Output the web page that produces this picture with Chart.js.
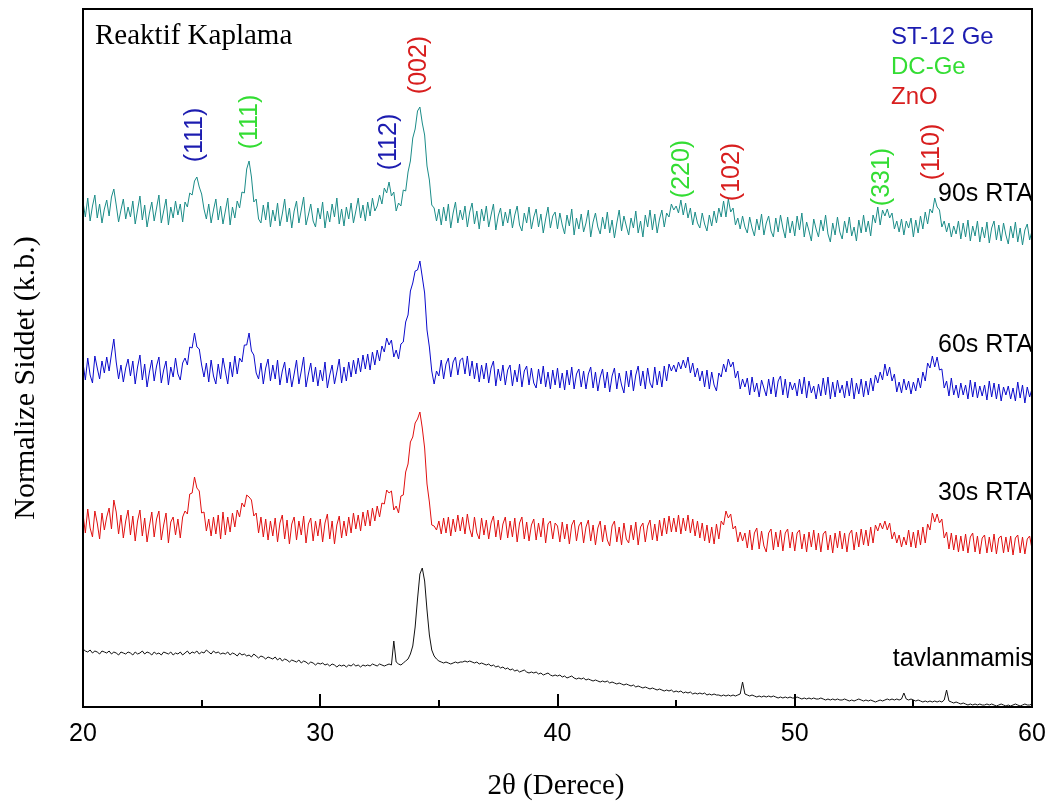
<!DOCTYPE html>
<html>
<head>
<meta charset="utf-8">
<script src="https://cdn.jsdelivr.net/npm/chart.js@4/dist/chart.umd.min.js"></script>
<style>
  body { margin: 0; background: #fff; }
  canvas { display: block; }
</style>
</head>
<body>
<canvas id="xrdChart" width="1053" height="805"></canvas>
<script>
// 2θ grid: 20.0 .. 60.0 every 0.1 degree
const startAngle = 20;
const stepAngle = 0.1;

// normalized intensity, offset per sample
const rta90 = [
  505, 490, 509, 486, 501, 512, 489, 503, 484, 498,
  507, 491, 510, 518, 502, 485, 497, 508, 488, 500,
  490, 506, 483, 497, 511, 487, 502, 480, 494, 505,
  486, 499, 512, 484, 496, 508, 482, 500, 489, 506,
  492, 503, 485, 505, 500, 514, 512, 526, 530, 520,
  513, 498, 488, 503, 484, 497, 508, 487, 501, 483,
  496, 509, 482, 500, 489, 506, 499, 515, 514, 538,
  546, 530, 505, 508, 488, 484, 502, 487, 505, 480,
  497, 486, 504, 481, 493, 508, 485, 499, 479, 496,
  506, 484, 497, 510, 482, 492, 503, 486, 480, 499,
  488, 505, 479, 496, 485, 503, 490, 509, 483, 498,
  481, 500, 488, 504, 484, 496, 509, 489, 502, 486,
  505, 491, 509, 496, 501, 512, 503, 519, 514, 525,
  511, 515, 496, 504, 501, 517, 516, 535, 546, 569,
  578, 596, 600, 584, 572, 541, 527, 502, 499, 486,
  498, 482, 500, 486, 503, 479, 494, 505, 484, 497,
  487, 501, 480, 495, 504, 483, 496, 478, 498, 486,
  501, 480, 492, 503, 477, 491, 499, 481, 495, 484,
  498, 479, 492, 501, 482, 476, 494, 484, 500, 478,
  490, 498, 480, 493, 474, 488, 500, 479, 491, 495,
  478, 494, 482, 473, 492, 481, 498, 472, 489, 478,
  493, 475, 484, 497, 470, 485, 494, 480, 473, 490,
  478, 495, 474, 487, 469, 484, 497, 476, 491, 481,
  472, 489, 479, 496, 474, 486, 470, 492, 480, 497,
  477, 493, 474, 488, 497, 480, 494, 490, 503, 497,
  501, 494, 507, 492, 504, 489, 499, 482, 495, 484,
  479, 494, 483, 476, 492, 481, 496, 484, 499, 490,
  506, 490, 508, 495, 499, 482, 489, 478, 491, 480,
  474, 490, 479, 471, 488, 477, 493, 472, 484, 491,
  476, 470, 489, 475, 492, 479, 469, 490, 474, 486,
  471, 491, 477, 494, 470, 485, 476, 466, 488, 478,
  470, 487, 476, 492, 473, 465, 484, 472, 490, 475,
  468, 486, 474, 490, 471, 480, 466, 487, 474, 492,
  475, 486, 471, 492, 484, 500, 482, 497, 491, 498,
  489, 494, 478, 486, 475, 488, 472, 486, 479, 489,
  470, 487, 474, 491, 478, 495, 483, 498, 494, 509,
  500, 497, 480, 486, 475, 484, 470, 481, 473, 486,
  468, 484, 470, 487, 466, 481, 471, 486, 465, 480,
  469, 485, 464, 479, 486, 467, 482, 466, 484, 472,
  463, 481, 469, 485, 465, 479, 462, 477, 483, 467,
  476
];

const rta60 = [
  344, 327, 349, 332, 324, 351, 339, 328, 346, 334,
  350, 336, 353, 368, 345, 328, 342, 325, 339, 348,
  331, 346, 323, 340, 352, 327, 343, 320, 335, 347,
  326, 341, 350, 324, 337, 346, 322, 340, 330, 349,
  333, 327, 344, 349, 342, 360, 359, 374, 360, 358,
  342, 330, 344, 325, 347, 331, 323, 343, 328, 349,
  336, 323, 345, 330, 351, 333, 349, 345, 362, 362,
  374, 356, 352, 334, 328, 344, 323, 339, 348, 326,
  342, 328, 347, 322, 336, 345, 324, 339, 320, 333,
  347, 323, 336, 350, 320, 333, 344, 325, 340, 321,
  337, 326, 345, 319, 332, 342, 323, 335, 348, 324,
  340, 326, 345, 330, 347, 333, 349, 335, 352, 338,
  353, 337, 355, 342, 357, 346, 361, 355, 369, 362,
  367, 350, 357, 348, 363, 365, 385, 392, 416, 424,
  436, 437, 446, 430, 414, 377, 360, 336, 323, 336,
  331, 347, 328, 343, 349, 330, 345, 350, 332, 347,
  349, 333, 351, 331, 346, 328, 344, 325, 342, 328,
  344, 324, 339, 346, 321, 338, 326, 342, 322, 337,
  342, 321, 337, 325, 343, 320, 336, 341, 322, 339,
  324, 319, 338, 323, 341, 320, 335, 318, 337, 322,
  339, 319, 334, 317, 337, 322, 340, 318, 333, 338,
  320, 336, 318, 333, 340, 319, 335, 316, 330, 338,
  319, 335, 315, 331, 339, 318, 334, 322, 314, 336,
  320, 337, 316, 332, 341, 321, 336, 318, 339, 324,
  319, 340, 322, 336, 320, 341, 326, 343, 336, 342,
  335, 345, 338, 347, 339, 350, 334, 344, 330, 339,
  326, 336, 320, 337, 318, 335, 322, 316, 334, 330,
  343, 335, 348, 340, 345, 329, 336, 318, 328, 320,
  329, 312, 330, 315, 324, 310, 327, 319, 311, 328,
  313, 330, 310, 326, 331, 312, 328, 309, 325, 317,
  324, 311, 328, 313, 330, 309, 326, 314, 321, 308,
  323, 311, 329, 312, 330, 308, 325, 310, 327, 314,
  322, 309, 326, 311, 329, 308, 324, 313, 328, 310,
  326, 312, 329, 316, 332, 324, 335, 327, 343, 331,
  340, 326, 333, 315, 325, 314, 328, 317, 326, 313,
  325, 316, 329, 319, 335, 326, 344, 339, 351, 340,
  350, 337, 338, 319, 326, 311, 329, 312, 322, 309,
  324, 312, 322, 308, 327, 310, 325, 309, 321, 311,
  322, 307, 326, 310, 324, 308, 323, 306, 320, 312,
  321, 308, 319, 306, 325, 309, 322, 304, 320, 310,
  318
];

const rta30 = [
  193, 174, 198, 179, 170, 196, 184, 168, 194, 177,
  190, 199, 178, 207, 195, 173, 192, 169, 186, 197,
  172, 191, 166, 186, 197, 171, 189, 165, 181, 195,
  170, 188, 196, 167, 182, 194, 164, 185, 190, 172,
  188, 169, 190, 196, 193, 213, 214, 230, 219, 216,
  194, 195, 176, 188, 171, 190, 173, 192, 168, 195,
  172, 190, 175, 194, 180, 197, 190, 204, 200, 212,
  210, 207, 191, 194, 174, 190, 170, 188, 167, 186,
  171, 189, 165, 184, 192, 168, 187, 163, 183, 190,
  167, 186, 172, 191, 164, 183, 189, 166, 186, 171,
  188, 165, 184, 193, 168, 186, 163, 182, 191, 169,
  186, 171, 190, 174, 194, 178, 192, 176, 195, 181,
  197, 181, 199, 186, 201, 190, 204, 203, 217, 214,
  216, 197, 201, 194, 211, 212, 235, 243, 265, 270,
  284, 288, 295, 279, 259, 223, 205, 182, 181, 177,
  186, 173, 189, 174, 190, 171, 188, 175, 192, 176,
  190, 173, 193, 178, 170, 190, 174, 168, 189, 172,
  187, 168, 184, 191, 170, 187, 167, 183, 190, 169,
  186, 170, 189, 165, 184, 190, 168, 185, 166, 182,
  188, 167, 184, 170, 189, 164, 183, 186, 168, 184,
  181, 165, 185, 168, 183, 163, 182, 187, 166, 181,
  185, 164, 180, 187, 166, 182, 162, 179, 186, 165,
  182, 167, 161, 181, 186, 165, 180, 162, 184, 168,
  164, 182, 167, 185, 162, 180, 184, 165, 181, 187,
  167, 183, 166, 187, 171, 189, 173, 191, 175, 189,
  175, 192, 173, 189, 176, 192, 174, 188, 171, 186,
  169, 184, 166, 182, 164, 180, 163, 183, 168, 186,
  182, 196, 189, 193, 178, 181, 165, 175, 166, 174,
  159, 177, 157, 174, 179, 158, 176, 161, 155, 174,
  178, 157, 175, 160, 177, 156, 174, 178, 159, 175,
  156, 174, 177, 158, 173, 155, 175, 160, 177, 157,
  174, 155, 173, 176, 157, 172, 154, 174, 159, 176,
  158, 174, 155, 173, 177, 157, 175, 160, 178, 162,
  177, 161, 180, 164, 182, 176, 184, 178, 186, 177,
  184, 168, 175, 164, 172, 160, 170, 162, 177, 160,
  175, 159, 177, 162, 180, 164, 183, 177, 194, 185,
  193, 184, 188, 169, 175, 158, 174, 157, 172, 155,
  171, 156, 173, 154, 170, 174, 155, 171, 153, 169,
  172, 154, 170, 155, 173, 153, 169, 171, 154, 170,
  155, 171, 152, 169, 172, 154, 170, 153, 168, 171,
  158
];

const asDeposited = [
  58, 56, 55, 57, 54, 56, 55, 53, 56, 55,
  54, 56, 53, 55, 54, 52, 55, 54, 53, 55,
  54, 52, 55, 53, 54, 56, 53, 55, 54, 52,
  55, 53, 54, 52, 55, 54, 53, 55, 52, 54,
  53, 55, 52, 54, 56, 53, 55, 54, 56, 53,
  55, 54, 57, 55, 53, 56, 54, 55, 53, 54,
  53, 55, 52, 54, 53, 51, 54, 52, 53, 51,
  52, 50, 53, 51, 49, 51, 50, 48, 50, 49,
  48, 50, 47, 49, 46, 48, 47, 45, 47, 46,
  45, 47, 44, 46, 45, 43, 45, 44, 42, 44,
  43, 44, 42, 43, 41, 43, 42, 40, 42, 41,
  42, 40, 42, 41, 43, 41, 42, 40, 42, 41,
  42, 41, 43, 42, 41, 43, 42, 41, 42, 43,
  42, 66, 45, 43, 42, 44, 46, 48, 53, 61,
  80, 108, 133, 139, 126, 97, 72, 57, 51, 48,
  46, 45, 44, 45, 44, 43, 44, 45, 44, 45,
  45, 46, 45, 46, 45, 44, 45, 43, 44, 43,
  42, 43, 41, 42, 40, 41, 39, 40, 38, 39,
  37, 38, 36, 37, 35, 36, 37, 35, 34, 35,
  34, 35, 33, 34, 32, 33, 34, 32, 31, 32,
  31, 32, 30, 31, 29, 30, 31, 29, 28, 29,
  28, 29, 27, 28, 27, 26, 27, 26, 25, 26,
  25, 26, 24, 25, 24, 23, 24, 23, 22, 23,
  22, 21, 22, 20, 21, 20, 19, 20, 19, 18,
  19, 18, 17, 18, 17, 16, 17, 16, 17, 15,
  16, 15, 16, 14, 15, 14, 15, 13, 14, 13,
  14, 13, 14, 12, 13, 12, 13, 12, 12, 11,
  12, 11, 12, 11, 12, 11, 12, 13, 25, 13,
  12, 11, 12, 11, 10, 11, 10, 11, 10, 11,
  10, 11, 10, 9, 10, 9, 10, 9, 10, 9,
  9, 10, 9, 8, 9, 8, 9, 8, 9, 8,
  8, 9, 8, 7, 8, 7, 8, 7, 8, 7,
  7, 8, 7, 6, 7, 6, 7, 8, 7, 6,
  7, 6, 7, 6, 5, 6, 7, 6, 7, 8,
  7, 8, 7, 8, 7, 8, 14, 8, 7, 8,
  7, 6, 7, 6, 5, 6, 5, 6, 5, 6,
  5, 6, 5, 7, 17, 6, 5, 4, 5, 4,
  3, 4, 3, 2, 3, 2, 3, 2, 3, 2,
  2, 3, 2, 3, 2, 1, 2, 3, 2, 1,
  2, 1, 2, 3, 2, 1, 2, 3, 2, 2,
  3
];

const seriesNames = ["90s RTA", "60s RTA", "30s RTA", "tavlanmamis"];
const seriesColors = ["#1b8c88", "#0a0acc", "#e01010", "#111111"];
const seriesLabelY = [513, 362, 214, 48];

// peak assignments: angle, height on the plot, text, phase colour
const peakAngles = [24.72, 27.04, 32.9, 34.17, 45.25, 47.36, 53.68, 55.79];
const peakHeights = [572, 585, 565, 642, 538, 535, 530, 555];
const peakTexts = ["(111)", "(111)", "(112)", "(002)", "(220)", "(102)", "(331)", "(110)"];
const peakPhase = [0, 1, 0, 2, 1, 2, 1, 2];

const phaseNames = ["ST-12 Ge", "DC-Ge", "ZnO"];
const phaseColors = ["#1c1cb0", "#33dd33", "#d81e1e"];

const xTicks = [20, 30, 40, 50, 60];
const xMinorTicks = [25, 35, 45, 55];

const toPoints = (vals) => vals.map((v, i) => ({ x: +(startAngle + i * stepAngle).toFixed(1), y: v }));

const allSeries = [rta90, rta60, rta30, asDeposited];

const serif = "'Liberation Serif', 'Times New Roman', serif";
const sans = "'Liberation Sans', Arial, sans-serif";

const decorPlugin = {
  id: "decor",
  afterDraw(chart) {
    const { ctx, chartArea: a, scales } = chart;
    const xs = scales.x, ys = scales.y;
    ctx.save();

    // frame
    ctx.strokeStyle = "#000";
    ctx.lineWidth = 2;
    ctx.strokeRect(a.left, a.top, a.right - a.left, a.bottom - a.top);

    // inward ticks on the bottom axis
    xTicks.forEach(t => {
      const px = Math.round(xs.getPixelForValue(t));
      ctx.beginPath(); ctx.moveTo(px, a.bottom); ctx.lineTo(px, a.bottom - 13); ctx.stroke();
    });
    xMinorTicks.forEach(t => {
      const px = Math.round(xs.getPixelForValue(t));
      ctx.beginPath(); ctx.moveTo(px, a.bottom); ctx.lineTo(px, a.bottom - 7); ctx.stroke();
    });

    // panel title
    ctx.fillStyle = "#000";
    ctx.font = "29px " + serif;
    ctx.textAlign = "left";
    ctx.textBaseline = "alphabetic";
    ctx.fillText("Reaktif Kaplama", a.left + 12, a.top + 35);

    // phase legend
    ctx.font = "24px " + sans;
    phaseNames.forEach((n, i) => {
      ctx.fillStyle = phaseColors[i];
      ctx.fillText(n, 891, a.top + 35 + i * 30);
    });

    // sample names
    ctx.fillStyle = "#000";
    ctx.font = "25px " + sans;
    ctx.textAlign = "right";
    ctx.textBaseline = "middle";
    seriesNames.forEach((n, i) => {
      ctx.fillText(n, a.right + 1, ys.getPixelForValue(seriesLabelY[i]));
    });

    // peak labels
    ctx.font = "25px " + sans;
    ctx.textAlign = "center";
    peakTexts.forEach((t, i) => {
      ctx.save();
      ctx.translate(xs.getPixelForValue(peakAngles[i]), ys.getPixelForValue(peakHeights[i]));
      ctx.rotate(-Math.PI / 2);
      ctx.fillStyle = phaseColors[peakPhase[i]];
      ctx.fillText(t, 0, 0);
      ctx.restore();
    });

    // axis titles
    ctx.fillStyle = "#000";
    ctx.font = "29px " + serif;
    ctx.textAlign = "center";
    ctx.fillText("2\u03b8 (Derece)", 556, 786);
    ctx.save();
    ctx.translate(26, 378);
    ctx.rotate(-Math.PI / 2);
    ctx.font = "30px " + serif;
    ctx.fillText("Normalize Siddet (k.b.)", 0, 0);
    ctx.restore();

    ctx.restore();
  }
};

new Chart(document.getElementById("xrdChart"), {
  type: "line",
  data: {
    datasets: allSeries.map((vals, i) => ({
      label: seriesNames[i],
      data: toPoints(vals),
      borderColor: seriesColors[i],
      borderWidth: 1,
      pointRadius: 0,
      tension: 0
    }))
  },
  options: {
    responsive: false,
    animation: false,
    events: [],
    layout: { padding: { left: 83, right: 21, top: 9, bottom: 0 } },
    plugins: { legend: { display: false }, tooltip: { enabled: false } },
    scales: {
      x: {
        type: "linear",
        min: 20,
        max: 60,
        grid: { display: false, drawTicks: false },
        border: { display: false },
        ticks: {
          stepSize: 10,
          color: "#000",
          padding: 12,
          font: { family: sans, size: 25 }
        },
        afterFit: (scale) => {
          scale.height = 98;
          scale.paddingLeft = 0;
          scale.paddingRight = 0;
        }
      },
      y: {
        display: false,
        min: 0,
        max: 698
      }
    }
  },
  plugins: [decorPlugin]
});
</script>
</body>
</html>
